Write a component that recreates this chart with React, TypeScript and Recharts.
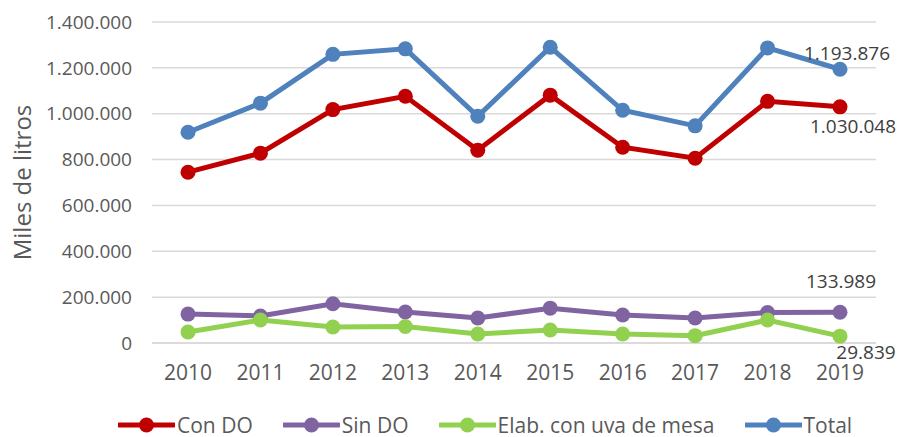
import React from 'react';
import { LineChart, Line, XAxis, YAxis, CartesianGrid, Legend, Label } from 'recharts';

const years = ['2010', '2011', '2012', '2013', '2014', '2015', '2016', '2017', '2018', '2019'];
const conDO = [745000, 828000, 1018000, 1076000, 841000, 1081000, 854000, 806000, 1054000, 1030048];
const sinDO = [126000, 118000, 171000, 135000, 109000, 152000, 122000, 109000, 133000, 133989];
const elab = [48000, 100000, 70000, 72000, 39000, 57000, 39000, 32000, 100000, 29839];
const total = [919000, 1046000, 1259000, 1283000, 989000, 1290000, 1015000, 947000, 1287000, 1193876];
const yTicks = [0, 200000, 400000, 600000, 800000, 1000000, 1200000, 1400000];

const series = [
  { key: 'conDO', name: 'Con DO', color: '#C00000', values: conDO },
  { key: 'sinDO', name: 'Sin DO', color: '#8064A2', values: sinDO },
  { key: 'elab', name: 'Elab. con uva de mesa', color: '#92D050', values: elab },
  { key: 'total', name: 'Total', color: '#4F81BD', values: total },
];

const data = years.map((year, i) => ({
  year,
  conDO: conDO[i],
  sinDO: sinDO[i],
  elab: elab[i],
  total: total[i],
}));

const FONT = '"Open Sans", sans-serif';

const fmt = (v: number) => String(Math.round(v)).replace(/\B(?=(\d{3})+(?!\d))/g, '.');

// label offsets for the last point of each series, relative to the dot
const lastLabelPos: Record<string, { dx: number; dy: number }> = {
  conDO: { dx: 13, dy: 19 },
  sinDO: { dx: 1, dy: -31 },
  elab: { dx: 26, dy: 16 },
  total: { dx: 7, dy: -16 },
};

const makeLabel = (key: string) => (props: any) => {
  const { x, y, index, value } = props;
  if (index !== years.length - 1) return null;
  const p = lastLabelPos[key];
  return (
    <text x={x + p.dx} y={y + p.dy} textAnchor="middle" dominantBaseline="central"
      fontFamily={FONT} fontSize={19} fill="#404040">
      {fmt(value)}
    </text>
  );
};

const LegendContent = () => (
  <div style={{ display: 'flex', alignItems: 'center', height: 24, paddingLeft: 118, width: 899, boxSizing: 'border-box' }}>
    {series.map((s) => (
      <div key={s.key} style={{ display: 'flex', alignItems: 'center', marginRight: 30, flexShrink: 0, whiteSpace: 'nowrap' }}>
        <svg width={57} height={18} style={{ flexShrink: 0 }}>
          <line x1={1} y1={9} x2={56} y2={9} stroke={s.color} strokeWidth={5} strokeLinecap="round" />
          <circle cx={28.5} cy={9} r={7.5} fill={s.color} />
        </svg>
        <span style={{ fontFamily: FONT, fontSize: 21, color: '#595959', marginLeft: 2, lineHeight: '24px' }}>{s.name}</span>
      </div>
    ))}
  </div>
);

export default function App() {
  return (
    <div style={{ position: 'absolute', left: 0, top: 0, width: 899, height: 437, background: '#fff' }}>
      <LineChart width={899} height={437} data={data}
        margin={{ top: 22, right: 23, left: 0, bottom: 0 }}>
        <CartesianGrid vertical={false} stroke="#d9d9d9" strokeWidth={1.5} />
        <XAxis dataKey="year" padding={{ left: 36, right: 36 }}
          axisLine={{ stroke: '#d9d9d9', strokeWidth: 1.5 }} tickLine={false}
          tickSize={0} tickMargin={22} height={70}
          tick={{ fontFamily: FONT, fontSize: 21, fill: '#595959' }} />
        <YAxis domain={[0, 1400000]} ticks={yTicks} tickFormatter={fmt} width={152}
          axisLine={false} tickLine={false} tickSize={0} tickMargin={20}
          tick={{ fontFamily: FONT, fontSize: 19, fill: '#595959' }}>
          <Label value="Miles de litros" angle={-90} position="insideLeft" offset={22}
            style={{ fontFamily: FONT, fontSize: 24, fill: '#595959', textAnchor: 'middle' }} />
        </YAxis>
        <Legend verticalAlign="bottom" width={899} wrapperStyle={{ left: 0, width: 899 }} content={<LegendContent />} />
        {series.map((s) => (
          <Line key={s.key} type="linear" dataKey={s.key} name={s.name} stroke={s.color}
            strokeWidth={5} dot={{ r: 7.5, fill: s.color, stroke: 'none' }} activeDot={false}
            isAnimationActive={false} label={makeLabel(s.key)} />
        ))}
      </LineChart>
    </div>
  );
}
